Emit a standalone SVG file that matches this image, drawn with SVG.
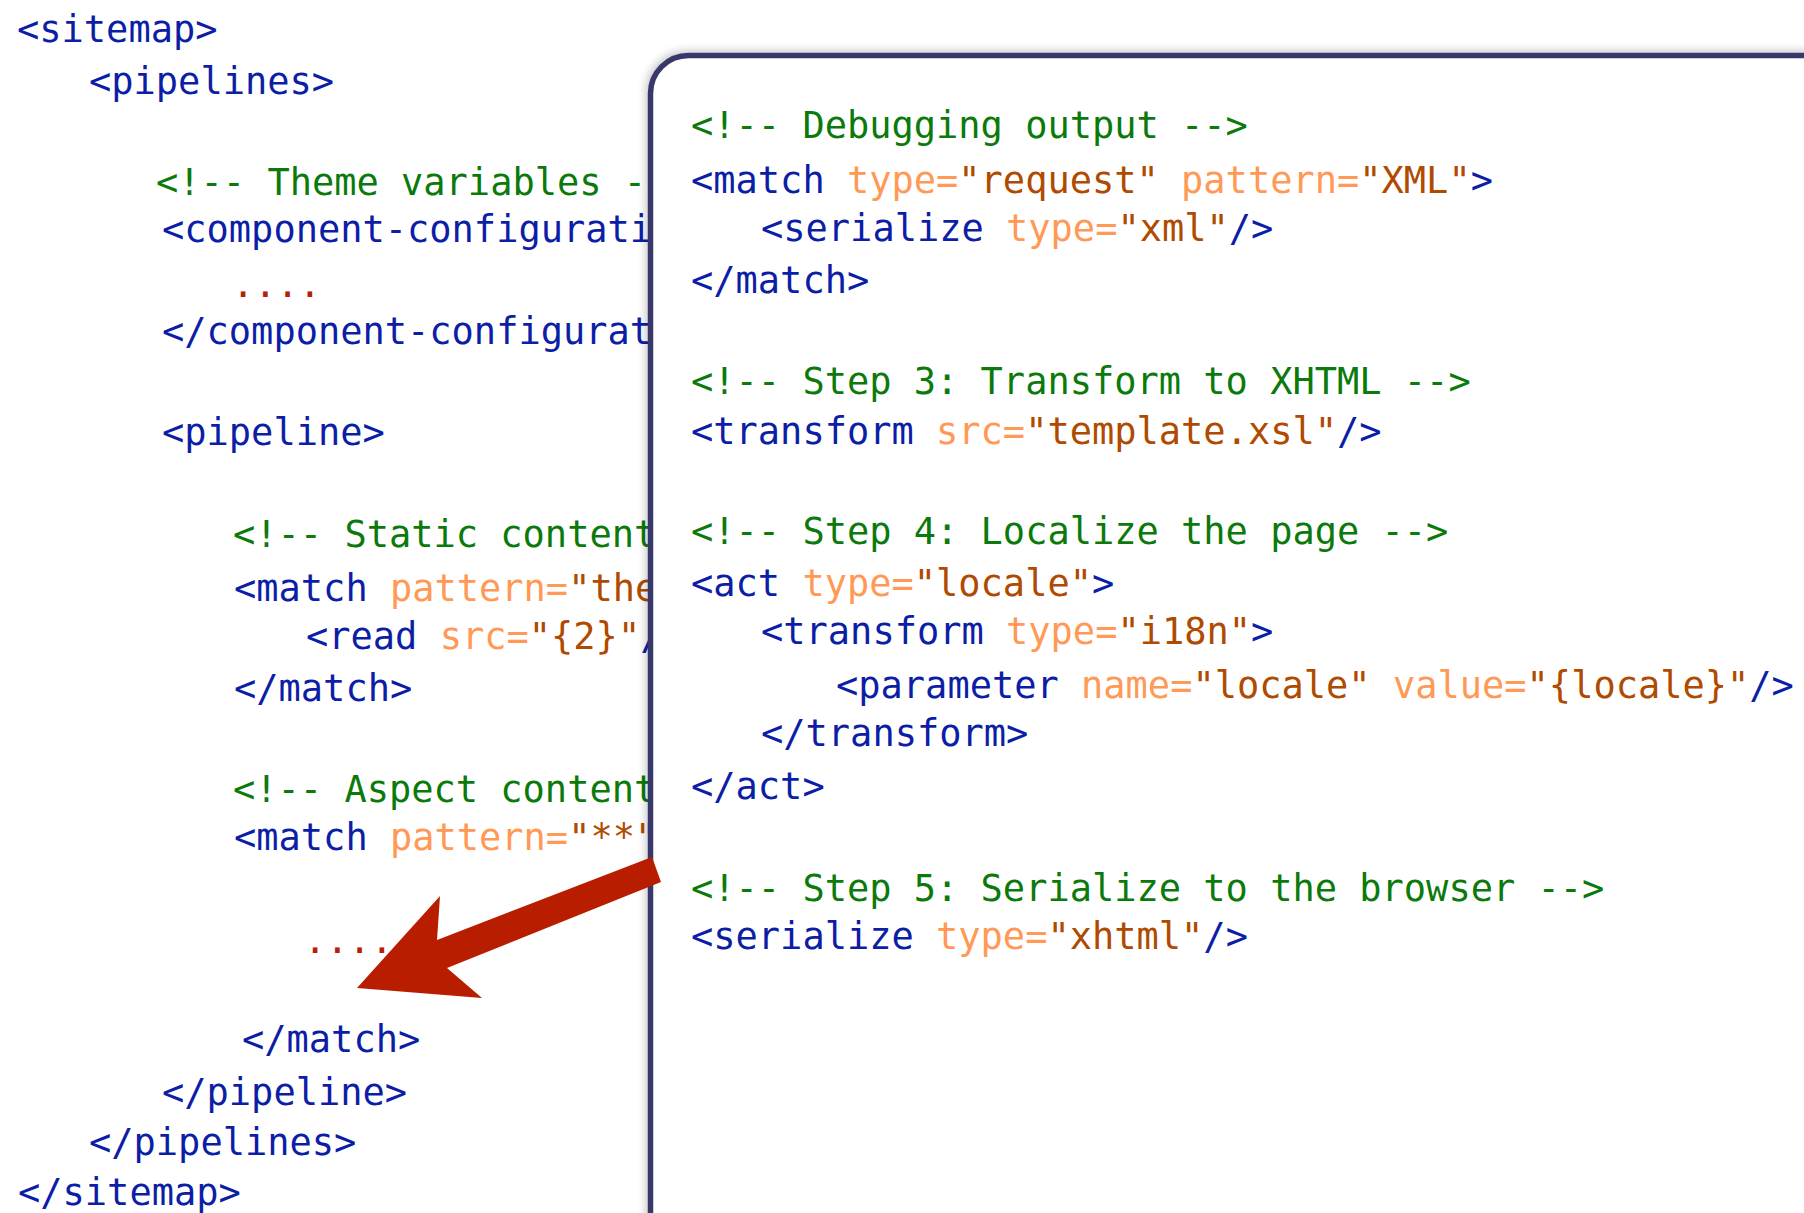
<svg xmlns="http://www.w3.org/2000/svg" width="1804" height="1213" viewBox="0 0 1804 1213">
<style>
text{font-family:"DejaVu Sans Mono","Liberation Mono",monospace;font-size:37px;white-space:pre}
.t{fill:#0c1ea6}
.c{fill:#0b7a0b}
.a{fill:#ff9955}
.v{fill:#b04a00}
.d{fill:#b5200c}
</style>
<defs>
<filter id="sh" x="-5%" y="-5%" width="110%" height="110%">
<feDropShadow dx="-2" dy="-2" stdDeviation="4" flood-color="#000" flood-opacity="0.22"/>
</filter>
</defs>
<rect width="1804" height="1213" fill="#fff"/>
<g id="sitemap-code">
<text x="17" y="42" class="t">&lt;sitemap&gt;</text>
<text x="89" y="94" class="t">&lt;pipelines&gt;</text>
<text x="156" y="195" class="c">&lt;!-- Theme variables -</text>
<text x="162" y="242" class="t">&lt;component-configurati</text>
<text x="232" y="297" class="d">....</text>
<text x="162" y="344" class="t">&lt;/component-configurat</text>
<text x="162" y="445" class="t">&lt;pipeline&gt;</text>
<text x="233" y="547" class="c">&lt;!-- Static content</text>
<text x="234" y="601"><tspan class="t">&lt;match</tspan><tspan class="a"> pattern=</tspan><tspan class="v">"the</tspan></text>
<text x="306" y="649"><tspan class="t">&lt;read</tspan><tspan class="a"> src=</tspan><tspan class="v">"{2}"</tspan><tspan class="t">/</tspan></text>
<text x="234" y="701" class="t">&lt;/match&gt;</text>
<text x="233" y="802" class="c">&lt;!-- Aspect content</text>
<text x="234" y="850"><tspan class="t">&lt;match</tspan><tspan class="a"> pattern=</tspan><tspan class="v">"**"</tspan></text>
<text x="304" y="953" class="d">....</text>
<text x="242" y="1052" class="t">&lt;/match&gt;</text>
<text x="162" y="1105" class="t">&lt;/pipeline&gt;</text>
<text x="89" y="1155" class="t">&lt;/pipelines&gt;</text>
<text x="18" y="1205" class="t">&lt;/sitemap&gt;</text>
</g>
<g id="aspect-box">
<rect x="650.5" y="55.5" width="1300" height="1300" rx="38" fill="#fff" stroke="#38386a" stroke-width="5.5" filter="url(#sh)"/>
<text x="691" y="138" class="c">&lt;!-- Debugging output --&gt;</text>
<text x="691" y="193"><tspan class="t">&lt;match</tspan><tspan class="a"> type=</tspan><tspan class="v">"request"</tspan><tspan class="a"> pattern=</tspan><tspan class="v">"XML"</tspan><tspan class="t">&gt;</tspan></text>
<text x="761" y="241"><tspan class="t">&lt;serialize</tspan><tspan class="a"> type=</tspan><tspan class="v">"xml"</tspan><tspan class="t">/&gt;</tspan></text>
<text x="691" y="293" class="t">&lt;/match&gt;</text>
<text x="691" y="394" class="c">&lt;!-- Step 3: Transform to XHTML --&gt;</text>
<text x="691" y="444"><tspan class="t">&lt;transform</tspan><tspan class="a"> src=</tspan><tspan class="v">"template.xsl"</tspan><tspan class="t">/&gt;</tspan></text>
<text x="691" y="544" class="c">&lt;!-- Step 4: Localize the page --&gt;</text>
<text x="691" y="596"><tspan class="t">&lt;act</tspan><tspan class="a"> type=</tspan><tspan class="v">"locale"</tspan><tspan class="t">&gt;</tspan></text>
<text x="761" y="644"><tspan class="t">&lt;transform</tspan><tspan class="a"> type=</tspan><tspan class="v">"i18n"</tspan><tspan class="t">&gt;</tspan></text>
<text x="836" y="698"><tspan class="t">&lt;parameter</tspan><tspan class="a"> name=</tspan><tspan class="v">"locale"</tspan><tspan class="a"> value=</tspan><tspan class="v">"{locale}"</tspan><tspan class="t">/&gt;</tspan></text>
<text x="761" y="746" class="t">&lt;/transform&gt;</text>
<text x="691" y="799" class="t">&lt;/act&gt;</text>
<text x="691" y="901" class="c">&lt;!-- Step 5: Serialize to the browser --&gt;</text>
<text x="691" y="949"><tspan class="t">&lt;serialize</tspan><tspan class="a"> type=</tspan><tspan class="v">"xhtml"</tspan><tspan class="t">/&gt;</tspan></text>
</g>
<g id="connectors">
<polygon points="652,857 661,882 447,968 482,998 357,988 440,896 437,940" fill="#b91d00"/>
</g>
</svg>
